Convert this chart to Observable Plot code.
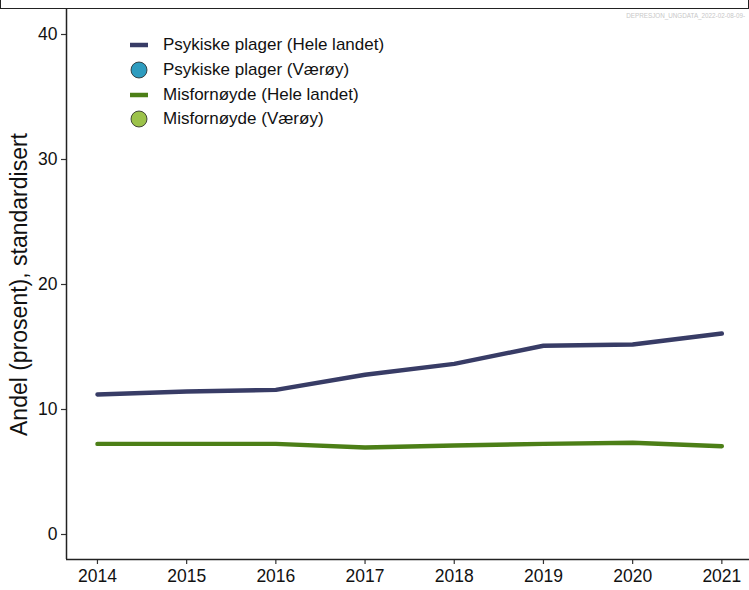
<!DOCTYPE html>
<html>
<head>
<meta charset="utf-8">
<script src="https://cdn.jsdelivr.net/npm/d3@7"></script>
<script src="https://cdn.jsdelivr.net/npm/@observablehq/plot@0.6"></script>
<style>
  html, body { margin: 0; padding: 0; background: #fff; }
  #wrap { position: relative; width: 749px; height: 590px; font-family: "Liberation Sans", Arial, sans-serif; }
  #topbox { position: absolute; left: 0; top: -20px; width: 747px; height: 27px; border: 1.5px solid #222; box-sizing: content-box; }
  #stamp { position: absolute; right: 4px; top: 12px; font-size: 6.3px; color: #c8c8c8; }
  #legend { position: absolute; left: 128px; top: 33px; font-size: 17px; color: #111; }
  .item { display: flex; align-items: center; height: 24.7px; }
  .item svg { width: 24px; height: 24px; margin-right: 11px; }
</style>
</head>
<body>
<div id="wrap">
  <div id="chart"></div>
  <div id="topbox"></div>
  <div id="stamp">DEPRESJON_UNGDATA_2022-02-08-09-</div>
  <div id="legend"></div>
</div>
<script>
const years = [2014, 2015, 2016, 2017, 2018, 2019, 2020, 2021];
const psykiskeHeleLandet = [11.2, 11.44, 11.57, 12.78, 13.65, 15.1, 15.2, 16.08];
const misfornoydeHeleLandet = [7.25, 7.25, 7.25, 6.96, 7.12, 7.25, 7.34, 7.06];
const yTicks = [0, 10, 20, 30, 40];
const seriesNames = ["Psykiske plager (Hele landet)", "Psykiske plager (Værøy)", "Misfornøyde (Hele landet)", "Misfornøyde (Værøy)"];
const seriesColors = ["#383c66", "#2e9cbf", "#4c7f17", "#9cc24a"];
const seriesKinds = ["line", "point", "line", "point"];

const psyk = years.map((year, i) => ({year, value: psykiskeHeleLandet[i]}));
const misf = years.map((year, i) => ({year, value: misfornoydeHeleLandet[i]}));

const xDomain = [2013.653, 2021.31];
const yDomain = [-2, 42];

const chart = Plot.plot({
  width: 749,
  height: 590,
  marginTop: 9,
  marginBottom: 31,
  marginLeft: 66,
  marginRight: 0,
  style: {fontFamily: "'Liberation Sans', Arial, sans-serif", color: "#333", background: "#fff"},
  x: {domain: xDomain},
  y: {domain: yDomain},
  marks: [
    Plot.lineY(psyk, {x: "year", y: "value", stroke: seriesColors[0], strokeWidth: 4.4}),
    Plot.lineY(misf, {x: "year", y: "value", stroke: seriesColors[2], strokeWidth: 4.4}),
    Plot.axisX({ticks: years, tickFormat: d => String(d), tickSize: 5, tickPadding: 5, fontSize: 17.5, label: null, color: "#111", stroke: "#333", strokeWidth: 1.2}),
    Plot.axisY({ticks: yTicks, tickSize: 5, tickPadding: 4, fontSize: 17.5, color: "#111", stroke: "#333", strokeWidth: 1.2,
      label: "Andel (prosent), standardisert", labelAnchor: "center", labelArrow: false, labelOffset: 56}),
    Plot.ruleX([xDomain[0]], {stroke: "#222", strokeWidth: 1.5}),
    Plot.ruleY([yDomain[0]], {stroke: "#222", strokeWidth: 1.5})
  ]
});
document.getElementById("chart").append(chart);
chart.querySelectorAll("[aria-label='y-axis label'] text").forEach(t => { t.setAttribute("font-size", 23); t.style.fill = "#111"; });

const legend = document.getElementById("legend");
seriesNames.forEach((name, i) => {
  const d = document.createElement("div");
  d.className = "item";
  const sym = seriesKinds[i] === "line"
    ? `<line x1="2" x2="20" y1="12" y2="12" stroke="${seriesColors[i]}" stroke-width="4.5"/>`
    : `<circle cx="11" cy="12" r="8" fill="${seriesColors[i]}" stroke="#222" stroke-width="0.8"/>`;
  d.innerHTML = `<svg viewBox="0 0 24 24">${sym}</svg><span>${name}</span>`;
  legend.append(d);
});
</script>
</body>
</html>
